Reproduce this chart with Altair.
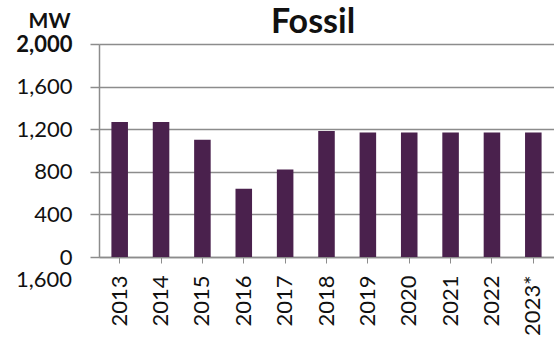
import altair as alt
import pandas as pd

# Installed fossil capacity by year (MW)
years = ["2013", "2014", "2015", "2016", "2017", "2018", "2019", "2020", "2021", "2022", "2023*"]
capacity_mw = [1267, 1267, 1100, 640, 822, 1183, 1170, 1170, 1170, 1170, 1170]
y_ticks = [0, 400, 800, 1200, 1600, 2000]

df = pd.DataFrame({"year": years, "mw": capacity_mw})

BAR = "#4a214d"
GRID = "#8c8c8c"
FONT = "Lato"

bars = alt.Chart(df).mark_bar(color=BAR, width=alt.RelativeBandSize(0.4)).encode(
    x=alt.X(
        "year:N",
        sort=years,
        scale=alt.Scale(paddingInner=0, paddingOuter=0),
        axis=alt.Axis(
            title=None,
            labelAngle=-90,
            labelAlign="right",
            labelBaseline="middle",
            labelFontSize=22,
            labelFont=FONT,
            labelColor="#111111",
            labelPadding=12,
            tickSize=6,
            tickColor=GRID,
            domainColor=GRID,
            domainWidth=1.5,
            grid=False,
        ),
    ),
    y=alt.Y(
        "mw:Q",
        scale=alt.Scale(domain=[0, 2000], nice=False),
        axis=alt.Axis(
            values=y_ticks,
            format=",d",
            title="MW",
            titleAngle=0,
            titleAlign="right",
            titleBaseline="alphabetic",
            titleX=-29,
            titleY=-17,
            titleFont=FONT,
            titleFontSize=21,
            titleFontWeight="bold",
            titleColor="#111111",
            labelFont=FONT,
            labelFontSize=22,
            labelColor="#111111",
            labelFontWeight=alt.condition("datum.value == 2000", alt.value("bold"), alt.value("normal")),
            labelPadding=18,
            tickSize=9,
            tickColor=GRID,
            tickWidth=1.5,
            domainColor=GRID,
            domainWidth=1.5,
            grid=True,
            gridColor=GRID,
            gridWidth=1.5,
        ),
    ),
)

# chart heading, set just above the top gridline
heading = alt.Chart(pd.DataFrame({"t": ["Fossil"]})).mark_text(
    font=FONT, fontSize=34, fontWeight="bold", align="center", baseline="alphabetic", color="#111111"
).encode(text="t:N", x=alt.value(214), y=alt.value(-11))

# stray axis label printed below the zero line
stray = alt.Chart(pd.DataFrame({"t": ["1,600"]})).mark_text(
    font=FONT, fontSize=22, align="right", baseline="middle", color="#111111"
).encode(text="t:N", x=alt.value(-27), y=alt.value(236))

chart = (
    alt.layer(bars, heading, stray)
    .properties(
        width=455,
        height=213,
        autosize="none",
        padding={"left": 99, "top": 44, "right": 0, "bottom": 87},
    )
    .configure_view(stroke=None)
    .configure(background="white")
)

chart.save("out.html", embed_options={"renderer": "svg", "actions": False})
